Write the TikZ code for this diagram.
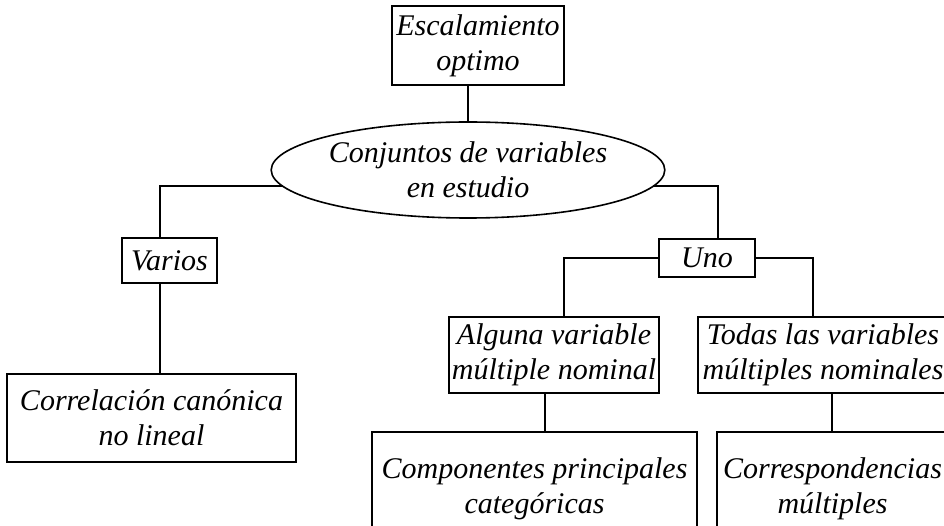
\documentclass[tikz,border=0pt]{standalone}
\usepackage{fontspec}
\setmainfont{Liberation Serif}
\usetikzlibrary{positioning,shapes.geometric}

\begin{document}
\begin{tikzpicture}[x=1pt,y=-1pt,line width=1.6pt,
     txt/.style={font=\fontsize{30pt}{35pt}\selectfont\itshape,align=center,inner sep=0pt},
     box/.style={txt,draw,rectangle},
     oval/.style={txt,draw,ellipse}]
   \useasboundingbox (0,0) rectangle (944,526);
   \clip (0,0) rectangle (944,526);
   \node[box,minimum width=172pt,minimum height=79pt] (esc) at (478,45.5) {Escalamiento\\optimo};
   \node[oval,minimum width=310pt,minimum height=96pt] (conj) at (468,170) {Conjuntos de variables\\en estudio};
   \node[box,minimum width=95pt,minimum height=45pt] (varios) at (169.5,260.5) {Varios};
   \node[box,minimum width=289pt,minimum height=88pt] (correl) at (151.5,418) {Correlación canónica\\no lineal};
   \node[box,minimum width=96pt,minimum height=38pt] (uno) at (707,258) {Uno};
   \node[box,minimum width=210pt,minimum height=76pt] (alguna) at (554,355) {Alguna variable\\múltiple nominal};
   \node[box,minimum width=250pt,minimum height=76pt] (todas) at (823,355) {Todas las variables\\múltiples nominales};
   \node[box,minimum width=325pt,minimum height=113pt] (comp) at (534.5,488.5) {Componentes principales\\categóricas};
   \node[box,minimum width=231pt,minimum height=113pt] (corr) at (832.5,488.5) {Correspondencias\\múltiples};
   \draw (conj.north) -- (conj.north |- esc.south);
   \draw (conj.185) -| ([xshift=-9.5pt]varios.north);
   \draw ([xshift=-9.5pt]varios.south) -- ([xshift=-9.5pt]varios.south |- correl.north);
   \draw (conj.-5) -| ([xshift=11pt]uno.north);
   \draw (uno.west) -| ([xshift=10pt]alguna.north);
   \draw (uno.east) -| ([xshift=-10pt]todas.north);
   \draw ([xshift=-9pt]alguna.south) -- ([xshift=-9pt]alguna.south |- comp.north);
   \draw ([xshift=9pt]todas.south) -- ([xshift=9pt]todas.south |- corr.north);
\end{tikzpicture}
\end{document}
